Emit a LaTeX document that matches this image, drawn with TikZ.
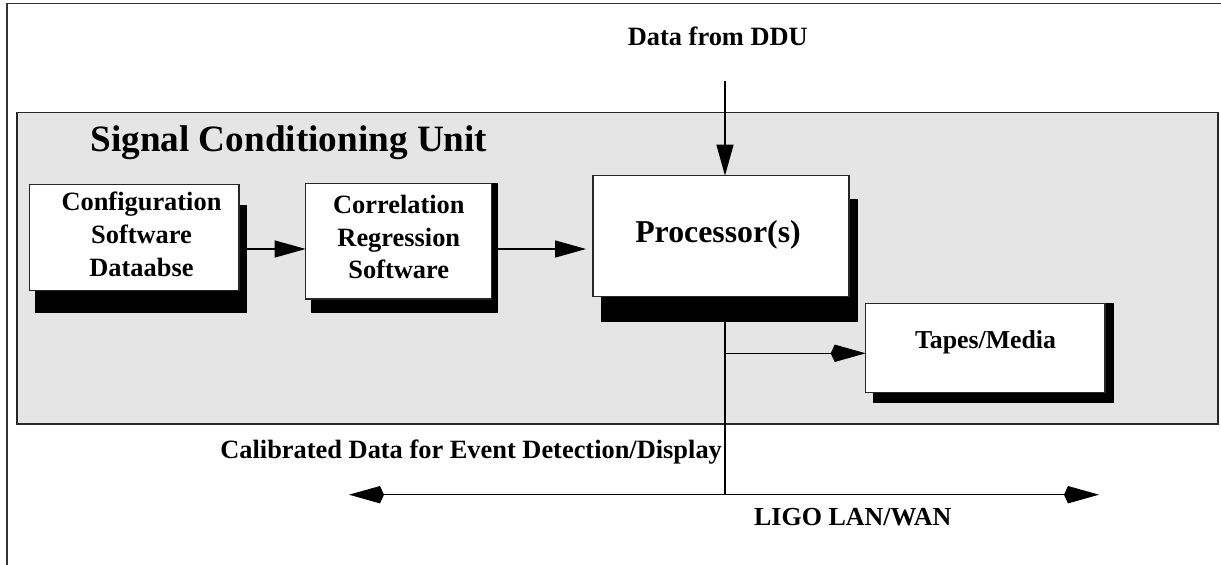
\documentclass[tikz,border=0pt]{standalone}
\usepackage{fontspec}
\setmainfont{Liberation Serif}
\usetikzlibrary{arrows.meta}
\begin{document}
\begin{tikzpicture}[x=0.5pt,y=-0.5pt,
  shadowbox/.style={fill=black, draw=none, inner sep=0pt, outer sep=0pt},
  whitebox/.style={fill=white, draw=black!85, line width=0.6pt, inner sep=0pt, outer sep=0pt},
  lbl/.style={inner sep=0pt, align=center, font=\bfseries\fontsize{13.2pt}{16.6pt}\selectfont},
  conn/.style={line width=0.6pt, draw=black},
  triarrow/.style={conn, -{Triangle[length=15.5pt,width=8.5pt]}},
  kitearrow/.style={conn, -{Kite[length=17.5pt,width=8.7pt,inset=2pt]}},
  kitebothway/.style={conn, {Kite[length=17.5pt,width=8.7pt,inset=2pt]}-{Kite[length=17.5pt,width=8.7pt,inset=2pt]}}
]
\useasboundingbox (0,0) rectangle (1221,565);
% outer frame
\draw[line width=0.9pt, black!80] (1230,3.5) -- (7,3.5) -- (7,575);
% signal conditioning unit
\node[fill=black!10, draw=black!85, line width=0.8pt, inner sep=0pt, outer sep=0pt,
      minimum width=600.5pt, minimum height=155.75pt] (scu) at (617.5,268.25) {};
\node[inner sep=0pt, anchor=base west, font=\bfseries\fontsize{18.6pt}{22pt}\selectfont] (title) at (90,151.7) {Signal Conditioning Unit};

% shadows
\node[shadowbox, minimum width=105.85pt, minimum height=54.15pt] (cfgsh) at (140.85,259.15) {};
\node[shadowbox, minimum width=93.8pt, minimum height=65pt] (corrsh) at (404.5,247.7) {};
\node[shadowbox, minimum width=128.5pt, minimum height=61.5pt] (procsh) at (729.2,260.8) {};
\node[shadowbox, minimum width=120.65pt, minimum height=50.3pt] (tapessh) at (993.35,353) {};

% boxes
\node[whitebox, minimum width=104.85pt, minimum height=53pt] (cfg) at (134.15,237.7) {};
\node[whitebox, minimum width=93pt, minimum height=57.85pt] (corr) at (398.7,241.15) {};
\node[whitebox, minimum width=128pt, minimum height=60.5pt] (proc) at (721,236.2) {};
\node[whitebox, minimum width=119.65pt, minimum height=44.5pt] (tapes) at (985.35,347.8) {};

% box texts
\node[lbl, anchor=north] (cfgtxt) at (141.5,191.5) {Configuration\\Software\\Dataabse};
\node[lbl, anchor=north, font=\bfseries\fontsize{13.2pt}{16.25pt}\selectfont] (corrtxt) at (398.8,195) {Correlation\\Regression\\Software};
\node[lbl, anchor=base, font=\bfseries\fontsize{15.9pt}{19pt}\selectfont] (proctxt) at (718,243) {Processor(s)};
\node[lbl, anchor=base, font=\bfseries\fontsize{12.9pt}{16pt}\selectfont] (tapestxt) at (985.5,349) {Tapes/Media};

% outside texts
\node[lbl, anchor=base] (ddu) at (717.8,46) {Data from DDU};
\node[lbl, anchor=base east] (cal) at (722.3,458.3) {Calibrated Data for Event Detection/Display};
\node[lbl, anchor=base, font=\bfseries\fontsize{13pt}{16pt}\selectfont] (ligo) at (852.7,526) {LIGO LAN/WAN};

% connector coordinates
\coordinate (ddutop) at (725,80.7);
\coordinate (branch) at (725,353.3);
\coordinate (lanmid) at (725,494.7);
\coordinate (lanL) at (349,494.7);
\coordinate (lanR) at (1099,494.7);
\coordinate (rowy) at (0,249);

% connectors
\draw[triarrow] (cfgsh.east |- rowy) -- (corr.west |- rowy);
\draw[triarrow, shorten >=3.5pt] (corr.east |- rowy) -- (proc.west |- rowy);
\draw[triarrow] (ddutop) -- (ddutop |- proc.north);
\draw[conn] (ddutop |- procsh.south) -- (lanmid);
\draw[kitearrow] (branch) -- (tapes.west |- branch);
\draw[kitebothway] (lanL) -- (lanR);
\end{tikzpicture}
\end{document}
